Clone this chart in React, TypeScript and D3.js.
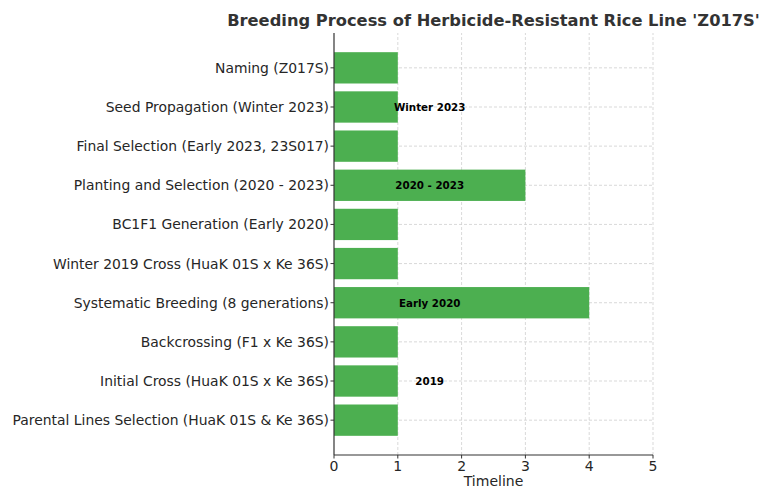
import React from "react";
import * as d3 from "d3";

// Breeding stages, listed bottom to top
const stages: string[] = [
  "Parental Lines Selection (HuaK 01S & Ke 36S)",
  "Initial Cross (HuaK 01S x Ke 36S)",
  "Backcrossing (F1 x Ke 36S)",
  "Systematic Breeding (8 generations)",
  "Winter 2019 Cross (HuaK 01S x Ke 36S)",
  "BC1F1 Generation (Early 2020)",
  "Planting and Selection (2020 - 2023)",
  "Final Selection (Early 2023, 23S017)",
  "Seed Propagation (Winter 2023)",
  "Naming (Z017S)",
];

// Duration of each stage on the timeline
const durations: number[] = [1, 1, 1, 4, 1, 1, 3, 1, 1, 1];

// Period annotations placed inside the bars
const annotationStage: number[] = [1, 3, 6, 8];
const annotationText: string[] = ["2019", "Early 2020", "2020 - 2023", "Winter 2023"];
const annotationX = 1.5;

const xTicks: number[] = [0, 1, 2, 3, 4, 5];

const W = 761;
const H = 488;
const FONT = "'DejaVu Sans', sans-serif";

export default function App() {
  const x = d3.scaleLinear().domain([0, 5]).range([334, 653]);
  const barH = 0.8;
  const pad = 0.05 * (stages.length - 1 + barH);
  const y = d3
    .scaleLinear()
    .domain([-barH / 2 - pad, stages.length - 1 + barH / 2 + pad])
    .range([455, 33]);
  const bandPx = Math.abs(y(1) - y(0));
  const [y0, y1] = y.range();

  return (
    <svg
      width={W}
      height={H}
      style={{ position: "absolute", left: 0, top: 0, background: "#fff" }}
      fontFamily={FONT}
    >
      {/* vertical grid */}
      {xTicks.slice(1).map((t) => (
        <line
          key={"gx" + t}
          x1={x(t)}
          x2={x(t)}
          y1={y0}
          y2={y1}
          stroke="#cfcfcf"
          strokeWidth={0.8}
          strokeDasharray="3,2"
        />
      ))}
      {/* horizontal grid */}
      {stages.map((s, i) => (
        <line
          key={"gy" + i}
          x1={x(0)}
          x2={x(5)}
          y1={y(i)}
          y2={y(i)}
          stroke="#cfcfcf"
          strokeWidth={0.8}
          strokeDasharray="3,2"
        />
      ))}
      {/* bars */}
      {stages.map((s, i) => (
        <rect
          key={"b" + i}
          x={x(0)}
          y={y(i) - (barH * bandPx) / 2}
          width={x(durations[i]) - x(0)}
          height={barH * bandPx}
          fill="#4CAF50"
        />
      ))}
      {/* annotations */}
      {annotationStage.map((si, k) => (
        <text
          key={"a" + k}
          x={x(annotationX)}
          y={y(si)}
          textAnchor="middle"
          dominantBaseline="central"
          fontSize={10.3}
          fontWeight="bold"
          fill="#000"
        >
          {annotationText[k]}
        </text>
      ))}
      {/* y axis */}
      <line x1={x(0)} x2={x(0)} y1={y0} y2={y1} stroke="#333" strokeWidth={1.2} />
      {stages.map((s, i) => (
        <g key={"yt" + i}>
          <line x1={x(0) - 3.5} x2={x(0)} y1={y(i)} y2={y(i)} stroke="#333" strokeWidth={1} />
          <text
            x={x(0) - 5}
            y={y(i)}
            textAnchor="end"
            dominantBaseline="central"
            fontSize={13.9}
            fill="#262626"
          >
            {s}
          </text>
        </g>
      ))}
      {/* x axis */}
      <line x1={x(0)} x2={x(5)} y1={y0} y2={y0} stroke="#333" strokeWidth={1.2} />
      {xTicks.map((t) => (
        <g key={"xt" + t}>
          <line x1={x(t)} x2={x(t)} y1={y0} y2={y0 + 3.5} stroke="#333" strokeWidth={1} />
          <text x={x(t)} y={y0 + 16} textAnchor="middle" fontSize={14} fill="#262626">
            {t}
          </text>
        </g>
      ))}
      <text x={(x(0) + x(5)) / 2} y={486} textAnchor="middle" fontSize={14} fill="#262626">
        Timeline
      </text>
      {/* title */}
      <text
        x={(x(0) + x(5)) / 2}
        y={26}
        textAnchor="middle"
        fontSize={16.3}
        fontWeight="bold"
        fill="#333"
      >
        Breeding Process of Herbicide-Resistant Rice Line 'Z017S'
      </text>
    </svg>
  );
}
